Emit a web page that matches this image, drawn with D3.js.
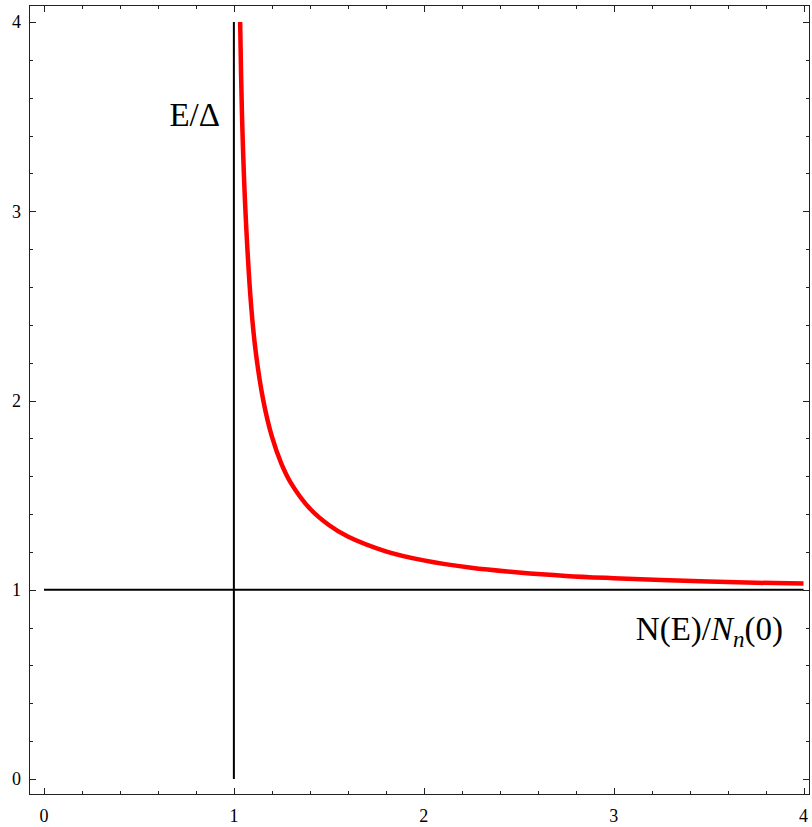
<!DOCTYPE html>
<html>
<head>
<meta charset="utf-8">
<script src="https://cdn.jsdelivr.net/npm/d3@7"></script>
<style>
  html, body { margin: 0; padding: 0; background: #fff; }
  svg { display: block; }
  text { font-family: "Liberation Serif", "Times New Roman", serif; fill: #000; }
</style>
</head>
<body>
<svg id="chart" width="812" height="827"></svg>
<script>
// Curve values: N(E)/N_n(0) (x) vs E/Δ (y)
const curveX = [1.033, 1.043, 1.061, 1.091, 1.116, 1.155, 1.2, 1.25, 1.3, 1.4, 1.5, 1.6, 1.8, 2.0, 2.25, 2.5, 2.75, 3.0, 3.25, 3.5, 3.75, 4.0];
const curveY = [4.0, 3.5, 3.0, 2.5, 2.25, 2.0, 1.81, 1.667, 1.565, 1.429, 1.342, 1.281, 1.203, 1.155, 1.116, 1.091, 1.073, 1.061, 1.051, 1.043, 1.037, 1.033];
const xTicks = [0, 1, 2, 3, 4];
const yTicks = [0, 1, 2, 3, 4];
const xTickLabels = ["0", "1", "2", "3", "4"];
const yTickLabels = ["0", "1", "2", "3", "4"];
const axisOrigin = [1, 1];
const xLabel = "N(E)/";
const yLabel = "E/Δ";

const svg = d3.select("#chart");
const frame = {left: 29, right: 810, top: 5, bottom: 795};
const x = d3.scaleLinear().domain([0, 4]).range([44, 803.5]);
const y = d3.scaleLinear().domain([0, 4]).range([779, 22]);

// frame
svg.append("rect")
  .attr("x", frame.left + 0.5).attr("y", frame.top + 0.5)
  .attr("width", frame.right - frame.left - 1).attr("height", frame.bottom - frame.top - 1)
  .attr("fill", "none").attr("stroke", "#222").attr("stroke-width", 1);

const minor = d3.range(0, 4.0001, 0.2).filter(v => Math.abs(v - Math.round(v)) > 1e-6);
const tickG = svg.append("g").attr("stroke", "#222").attr("stroke-width", 1);
xTicks.forEach(v => {
  const px = Math.round(x(v)) + 0.5;
  tickG.append("line").attr("x1", px).attr("x2", px).attr("y1", frame.bottom).attr("y2", frame.bottom - 7);
  tickG.append("line").attr("x1", px).attr("x2", px).attr("y1", frame.top).attr("y2", frame.top + 7);
});
minor.forEach(v => {
  const px = Math.round(x(v)) + 0.5;
  tickG.append("line").attr("x1", px).attr("x2", px).attr("y1", frame.bottom).attr("y2", frame.bottom - 4);
  tickG.append("line").attr("x1", px).attr("x2", px).attr("y1", frame.top).attr("y2", frame.top + 4);
});
yTicks.forEach(v => {
  const py = Math.round(y(v)) + 0.5;
  tickG.append("line").attr("y1", py).attr("y2", py).attr("x1", frame.left).attr("x2", frame.left + 7);
  tickG.append("line").attr("y1", py).attr("y2", py).attr("x1", frame.right).attr("x2", frame.right - 7);
});
minor.forEach(v => {
  const py = Math.round(y(v)) + 0.5;
  tickG.append("line").attr("y1", py).attr("y2", py).attr("x1", frame.left).attr("x2", frame.left + 4);
  tickG.append("line").attr("y1", py).attr("y2", py).attr("x1", frame.right).attr("x2", frame.right - 4);
});

// tick labels
svg.append("g").selectAll("text").data(xTicks).join("text")
  .attr("x", d => x(d)).attr("y", 822)
  .attr("text-anchor", "middle").attr("font-size", 18)
  .text((d, i) => xTickLabels[i]);
svg.append("g").selectAll("text").data(yTicks).join("text")
  .attr("x", 21).attr("y", d => y(d)).attr("dy", "0.35em")
  .attr("text-anchor", "end").attr("font-size", 18)
  .text((d, i) => yTickLabels[i]);

// axes through origin (1,1)
svg.append("line")
  .attr("x1", x(0)).attr("x2", x(4)).attr("y1", y(axisOrigin[1])).attr("y2", y(axisOrigin[1]))
  .attr("stroke", "#000").attr("stroke-width", 2);
svg.append("line")
  .attr("x1", x(axisOrigin[0])).attr("x2", x(axisOrigin[0])).attr("y1", y(0)).attr("y2", y(4))
  .attr("stroke", "#000").attr("stroke-width", 2);

// curve
const pts = curveX.map((v, i) => [v, curveY[i]]);
svg.append("path")
  .datum(pts)
  .attr("d", d3.line().x(d => x(d[0])).y(d => y(d[1])).curve(d3.curveCatmullRom.alpha(0.5)))
  .attr("fill", "none").attr("stroke", "#ff0000").attr("stroke-width", 4.5)
  .attr("stroke-linejoin", "round");

// axis labels
svg.append("text")
  .attr("x", 220).attr("y", 126).attr("text-anchor", "end").attr("font-size", 33)
  .text(yLabel);
const xl = svg.append("text")
  .attr("x", 783).attr("y", 640).attr("text-anchor", "end").attr("font-size", 33);
xl.append("tspan").text(xLabel);
xl.append("tspan").attr("font-style", "italic").text("N");
xl.append("tspan").attr("font-style", "italic").attr("font-size", 23).attr("dy", 7).text("n");
xl.append("tspan").attr("dy", -7).text("(0)");
</script>
</body>
</html>
